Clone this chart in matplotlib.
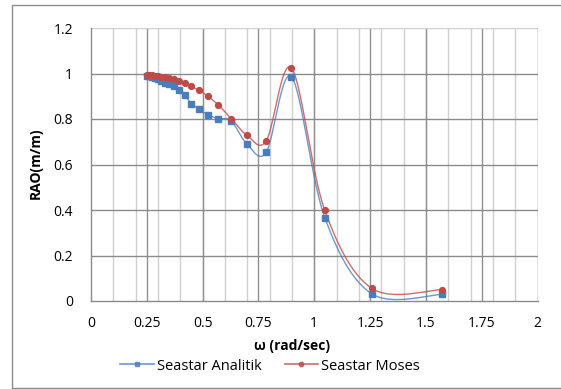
import numpy as np
import matplotlib
matplotlib.use("Agg")
import matplotlib.pyplot as plt
from matplotlib.patches import Rectangle
from matplotlib.lines import Line2D

# Data (omega = 2*pi/T, T = 25 ... 4 s)
omega = [0.251, 0.262, 0.273, 0.286, 0.299, 0.314, 0.331, 0.349, 0.370, 0.393,
         0.419, 0.449, 0.483, 0.524, 0.571, 0.628, 0.698, 0.785, 0.898, 1.047,
         1.257, 1.571]
rao_analitik = [0.991, 0.988, 0.984, 0.979, 0.974, 0.967, 0.960, 0.952, 0.944, 0.928,
                0.905, 0.868, 0.845, 0.818, 0.802, 0.792, 0.691, 0.654, 0.985, 0.367,
                0.032, 0.029]
rao_moses = [0.994, 0.993, 0.992, 0.990, 0.988, 0.986, 0.983, 0.979, 0.975, 0.969,
             0.958, 0.943, 0.927, 0.900, 0.861, 0.802, 0.729, 0.704, 1.024, 0.399,
             0.056, 0.050]
x_ticks = [0, 0.25, 0.5, 0.75, 1, 1.25, 1.5, 1.75, 2]
x_ticklabels = ["0", "0.25", "0.5", "0.75", "1", "1.25", "1.5", "1.75", "2"]
y_ticks = [0, 0.2, 0.4, 0.6, 0.8, 1.0, 1.2]
y_ticklabels = ["0", "0.2", "0.4", "0.6", "0.8", "1", "1.2"]
series_names = ["Seastar Analitik", "Seastar Moses"]


def smooth(xs, ys, n=30):
    xs = np.asarray(xs, float)
    ys = np.asarray(ys, float)
    P = np.column_stack([xs, ys])
    P = np.vstack([P[0], P, P[-1]])
    out = []
    t = np.linspace(0, 1, n)
    for i in range(1, len(P) - 2):
        p0, p1, p2, p3 = P[i - 1], P[i], P[i + 1], P[i + 2]
        c1 = p1 + (p2 - p0) / 6.0
        c2 = p2 - (p3 - p1) / 6.0
        b = ((1 - t) ** 3)[:, None] * p1 + (3 * (1 - t) ** 2 * t)[:, None] * c1 \
            + (3 * (1 - t) * t ** 2)[:, None] * c2 + (t ** 3)[:, None] * p2
        out.append(b if i == 1 else b[1:])
    B = np.vstack(out)
    return B[:, 0], B[:, 1]


plt.rcParams['font.family'] = ['Open Sans', 'DejaVu Sans']

W, H = 561, 389
fig = plt.figure(figsize=(W / 100, H / 100), dpi=100)
fig.patch.set_facecolor("white")

# outer chart border (top, left, bottom; right extends beyond image)
fig.patches.append(Rectangle((12 / W, 1 - 387.5 / H), 600 / W, (387.5 - 5) / H,
                             transform=fig.transFigure, fill=False,
                             edgecolor="#8c8c8c", linewidth=1.0))

ax = fig.add_axes([91 / W, 1 - 301 / H, (537.5 - 91) / W, (301 - 28) / H])
ax.set_xlim(0, 2)
ax.set_ylim(0, 1.2)

# gridlines
for xv in np.arange(0.1, 2.0001, 0.1):
    ax.axvline(xv, color="#cfcfcf", lw=1.0, zorder=0)
for xv in x_ticks[1:]:
    ax.axvline(xv, color="#8f8f8f", lw=1.0, zorder=0.5)
for yv in y_ticks[1:-1]:
    ax.axhline(yv, color="#8a8a8a", lw=1.0, zorder=0.5)
ax.axhline(1.2, color="#d0d0d0", lw=1.0, zorder=0.5)

for s in ["top", "right"]:
    ax.spines[s].set_visible(False)
for s in ["left", "bottom"]:
    ax.spines[s].set_color("#8a8a8a")
    ax.spines[s].set_linewidth(1.0)

ax.set_xticks(x_ticks)
ax.set_xticklabels(x_ticklabels)
ax.set_yticks(y_ticks)
ax.set_yticklabels(y_ticklabels)
ax.tick_params(axis="both", length=0, labelsize=10, colors="black")
ax.tick_params(axis="x", pad=11)
ax.tick_params(axis="y", pad=13)

c_blue = "#4a7ebb"
c_red = "#be4b48"
xs, ys = smooth(omega, rao_analitik)
ax.plot(xs, ys, color=c_blue, lw=1.0, alpha=0.8, zorder=3)
ax.plot(omega, rao_analitik, ls="none", marker="s", ms=4.5, color=c_blue,
        markeredgecolor=c_blue, zorder=4)
xs, ys = smooth(omega, rao_moses)
ax.plot(xs, ys, color=c_red, lw=1.0, alpha=0.8, zorder=3)
ax.plot(omega, rao_moses, ls="none", marker="o", ms=4.2, color=c_red,
        markeredgecolor=c_red, zorder=4)

fig.text(292 / W, 1 - 346 / H, "ω (rad/sec)", fontsize=10, fontweight="bold",
         ha="center", va="center")
fig.text(36 / W, 1 - 163 / H, "RAO(m/m)", fontsize=10, fontweight="bold",
         ha="center", va="center", rotation=90)

handles = [Line2D([0], [0], color=c_blue, lw=1.2, alpha=0.8, marker="s", ms=3.5),
           Line2D([0], [0], color=c_red, lw=1.2, alpha=0.8, marker="o", ms=3.2)]
fig.legend(handles, series_names, loc="center", bbox_to_anchor=(270 / W, 1 - 366 / H),
           ncol=2, frameon=False, fontsize=10.5, handlelength=2.3,
           columnspacing=1.6, handletextpad=0.2)

fig.savefig("out.png", dpi=100, facecolor="white")
